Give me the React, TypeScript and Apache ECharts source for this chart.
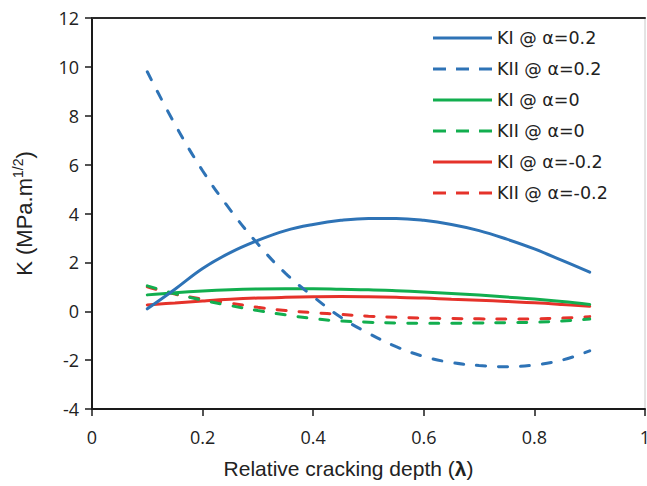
import React, { useEffect, useRef } from "react";
import * as echarts from "echarts";

// Relative cracking depth λ
const lambda = [0.1, 0.15, 0.2, 0.25, 0.3, 0.35, 0.4, 0.45, 0.5, 0.55, 0.6, 0.65, 0.7, 0.75, 0.8, 0.85, 0.9];

// Stress intensity factors (MPa·m^1/2)
const kiAlpha02 = [0.1, 0.9, 1.75, 2.4, 2.9, 3.3, 3.55, 3.72, 3.8, 3.8, 3.72, 3.55, 3.3, 2.95, 2.55, 2.08, 1.6];
const kiiAlpha02 = [9.8, 7.65, 5.75, 4.15, 2.75, 1.55, 0.6, -0.25, -0.9, -1.45, -1.85, -2.1, -2.22, -2.27, -2.2, -2.0, -1.62];
const kiAlpha0 = [0.67, 0.76, 0.83, 0.88, 0.91, 0.92, 0.92, 0.9, 0.88, 0.84, 0.79, 0.73, 0.66, 0.58, 0.5, 0.4, 0.28];
const kiiAlpha0 = [1.04, 0.72, 0.45, 0.23, 0.03, -0.15, -0.3, -0.4, -0.45, -0.48, -0.49, -0.49, -0.48, -0.47, -0.45, -0.4, -0.32];
const kiAlphaM02 = [0.26, 0.34, 0.42, 0.49, 0.54, 0.57, 0.59, 0.6, 0.59, 0.57, 0.54, 0.49, 0.45, 0.4, 0.35, 0.28, 0.2];
const kiiAlphaM02 = [1.0, 0.7, 0.5, 0.33, 0.16, 0.03, -0.06, -0.13, -0.2, -0.25, -0.28, -0.3, -0.31, -0.32, -0.31, -0.28, -0.22];

const seriesNames = ["KI @ α=0.2", "KII @ α=0.2", "KI @ α=0", "KII @ α=0", "KI @ α=-0.2", "KII @ α=-0.2"];
const seriesValues = [kiAlpha02, kiiAlpha02, kiAlpha0, kiiAlpha0, kiAlphaM02, kiiAlphaM02];
const seriesColors = ["#2E73B6", "#2E73B6", "#12AE4F", "#12AE4F", "#E5322A", "#E5322A"];
const seriesDashed = [false, true, false, true, false, true];

const DASH = [9, 13];

// Legend keys: a plain bar for solid lines, three short bars for dashed ones
const SOLID_ICON = "path://M0,0H59V3H0Z";
const DASHED_ICON = "path://M0,0H13V3H0ZM23,0H36V3H23ZM46,0H59V3H46Z";

export default function App() {
  const ref = useRef<HTMLDivElement>(null);

  useEffect(() => {
    if (!ref.current) return;
    const chart = echarts.init(ref.current, undefined, { renderer: "svg" });

    const series = seriesNames.map((name, i) => ({
      name,
      type: "line",
      smooth: 0.4,
      symbol: "none",
      data: lambda.map((x, j) => [x, seriesValues[i][j]]),
      lineStyle: {
        color: seriesColors[i],
        width: 3,
        type: seriesDashed[i] ? DASH : "solid",
        cap: "round",
      },
      itemStyle: { color: seriesColors[i] },
      z: 10 - i,
    }));

    chart.setOption({
      animation: false,
      backgroundColor: "#ffffff",
      grid: {
        left: 92,
        right: 2,
        top: 18,
        bottom: 77,
        outerBoundsMode: "none",
        show: true,
        borderColor: "#c8c8c8",
        borderWidth: 1,
      },
      legend: {
        orient: "vertical",
        left: 428,
        top: 23,
        itemWidth: 59,
        itemHeight: 3,
        itemGap: 11,
        textStyle: {
          fontFamily: "DejaVu Sans",
          fontSize: 17.5,
          color: "#222",
          lineHeight: 20,
        },
        data: seriesNames.map((name, i) => ({
          name,
          icon: seriesDashed[i] ? DASHED_ICON : SOLID_ICON,
          itemStyle: { color: seriesColors[i] },
        })),
      },
      xAxis: [
        {
          type: "value",
          min: 0,
          max: 1,
          interval: 0.2,
          name: "{t|Relative cracking depth (}{b|λ}{t|)}",
          nameLocation: "middle",
          nameGap: 49,
          nameTextStyle: {
            padding: [0, 40, 0, 0],
            rich: {
              t: { fontFamily: "Liberation Sans", fontSize: 21, color: "#222" },
              b: { fontFamily: "Liberation Sans", fontSize: 21, fontWeight: "bold", color: "#222" },
            },
          },
          axisLine: { show: true, onZero: false, lineStyle: { color: "#1a1a1a", width: 2 } },
          axisTick: { show: true, length: 7, lineStyle: { color: "#1a1a1a", width: 1.5 } },
          axisLabel: {
            margin: 19,
            fontFamily: "Open Sans",
            fontSize: 18,
            color: "#222",
            formatter: (v: number) => String(+v.toFixed(1)),
          },
          splitLine: { show: false },
        },
        {
          type: "value",
          position: "top",
          min: 0,
          max: 1,
          axisLine: { show: true, onZero: false, lineStyle: { color: "#2a2a2a", width: 2 } },
          axisTick: { show: false },
          axisLabel: { show: false },
          splitLine: { show: false },
        },
      ],
      yAxis: {
        type: "value",
        min: -4,
        max: 12,
        interval: 2,
        name: "{t|K (MPa.m}{s|1/2}{t|)}",
        nameLocation: "middle",
        nameGap: 55,
        nameRotate: 90,
        nameTextStyle: {
          rich: {
            t: { fontFamily: "Liberation Sans", fontSize: 22, color: "#222", lineHeight: 26 },
            s: { fontFamily: "Liberation Sans", fontSize: 14, color: "#222", verticalAlign: "top", lineHeight: 14 },
          },
        },
        axisLine: { show: true, onZero: false, lineStyle: { color: "#1a1a1a", width: 2 } },
        axisTick: { show: true, length: 7, lineStyle: { color: "#1a1a1a", width: 1.5 } },
        axisLabel: {
          margin: 13,
          fontFamily: "Open Sans",
          fontSize: 18,
          color: "#222",
        },
        splitLine: { show: false },
      },
      series,
    });

    return () => chart.dispose();
  }, []);

  return (
    <div
      ref={ref}
      style={{ position: "absolute", left: 0, top: 0, width: 647, height: 486 }}
    />
  );
}
